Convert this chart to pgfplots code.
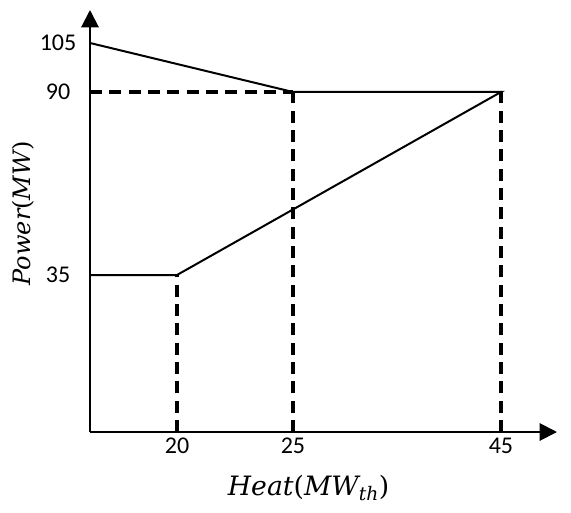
\documentclass[border=0pt]{standalone}
\usepackage{fontspec}
\setmainfont{Carlito}
\newfontfamily\labelfont{DejaVu Serif}
\usepackage{pgfplots}
\pgfplotsset{compat=1.18}
\usetikzlibrary{arrows.meta}

% Operating region of a CHP unit: power output against heat output.
% The axes are schematic, so both are stretched piecewise between the
% marked values (1 unit of the transformed scale = 0.75pt).
\newcommand\piecewise[2]{%
  \begingroup
  \pgfkeys{/pgf/fpu=true,/pgf/fpu/output format=fixed}%
  \pgfmathparse{#2}%
  \pgfmathsmuggle\pgfmathresult
  \endgroup}

\begin{document}
\begin{tikzpicture}
\useasboundingbox (-67.5pt,-60pt) rectangle (360.75pt,324pt);
\begin{axis}[
  at={(0,0)}, anchor=origin,
  scale only axis,
  width=350.25pt, height=316.5pt,
  axis lines=left,
  axis line style={line width=1.5pt, -{Triangle[length=13pt,width=13pt]}},
  x coord trafo/.code={\piecewise{x}{(#1<=20) ? (#1*87/20) : ((#1<=25) ? (87+(#1-20)*116/5) : (203+(#1-25)*208/20))}},
  y coord trafo/.code={\piecewise{y}{(#1<=35) ? (#1*157/35) : ((#1<=90) ? (157+(#1-35)*183/55) : (340+(#1-90)*49/15))}},
  xmin=0, xmax=50.385, ymin=0, ymax=115.1,
  xtick={20,25,45}, xticklabels={20,25,45},
  ytick={35,90,105}, yticklabels={35,90,105},
  major tick length=0pt,
  tick label style={font=\fontsize{18}{21}\selectfont},
  /pgf/number format/assume math mode=true,
  yticklabel style={anchor=center, xshift=-24pt},
  xticklabel style={yshift=-1pt},
  clip=false,
]
% boundary of the feasible region
\addplot[black, line width=1.5pt, line join=miter] coordinates {
  (0,105) (25,90) (45,90) (20,35) (0,35)
};
% guide lines to the axes
\addplot[black, line width=2.3pt, dash pattern=on 9pt off 5.5pt] coordinates {(0,90) (25,90)};
\addplot[black, line width=2.3pt, dash pattern=on 9pt off 5.5pt] coordinates {(20,0) (20,35)};
\addplot[black, line width=2.3pt, dash pattern=on 9pt off 5.5pt] coordinates {(25,0) (25,90)};
\addplot[black, line width=2.3pt, dash pattern=on 9pt off 5.5pt] coordinates {(45,0) (45,90)};
\end{axis}
% axis titles
\node at (164pt,-42pt) {\labelfont\fontsize{20}{23}\selectfont\itshape Heat\upshape(\itshape MW\textsubscript{th}\upshape)};
\node[rotate=90] at (-50pt,164pt) {\labelfont\fontsize{18}{21}\selectfont\itshape Power\upshape(\itshape MW\upshape)};
\end{tikzpicture}
\end{document}
